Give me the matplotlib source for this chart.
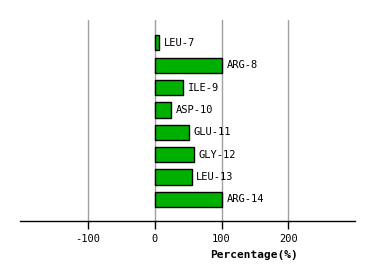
import numpy as np
import matplotlib
matplotlib.use("Agg")
import matplotlib.pyplot as plt

residues = ["LEU-7", "ARG-8", "ILE-9", "ASP-10", "GLU-11", "GLY-12", "LEU-13", "ARG-14"]
percent = [7, 101, 43, 25, 51, 59, 56, 101]
xticks = [-100, 0, 100, 200]

plt.rcParams['font.family'] = ['DejaVu Sans Mono']

W, H = 374, 280
fig = plt.figure(figsize=(W / 100, H / 100), dpi=100)
ax = fig.add_axes([20 / W, (H - 220.5) / H, 335 / W, 200.5 / H])

y = np.arange(len(residues))
ax.barh(y, percent, height=0.68, color="#00b000", edgecolor="black", linewidth=1.0, zorder=3)
for yi, v, name in zip(y, percent, residues):
    ax.annotate(name, (v, yi), xytext=(3, 0), textcoords="offset points",
                va="center", ha="left", fontsize=7.5, zorder=4)

ax.set_xlim(-202, 300)
ax.set_ylim(7.94, -1.02)
ax.set_xticks(xticks)
ax.set_xticklabels([str(t) for t in xticks], fontsize=7.5)
ax.set_yticks([])
ax.grid(axis="x", color="#a0a0a0", linewidth=1.0, zorder=0)
for s in ["top", "right", "left"]:
    ax.spines[s].set_visible(False)
ax.spines["bottom"].set_linewidth(1.0)
ax.tick_params(axis="x", length=6, width=1.0, pad=4)
ax.set_xlabel("Percentage(%)", fontsize=8, fontweight="bold")
ax.xaxis.set_label_coords((254 - 20) / 335, -0.145)

fig.savefig("out.png", dpi=100)
